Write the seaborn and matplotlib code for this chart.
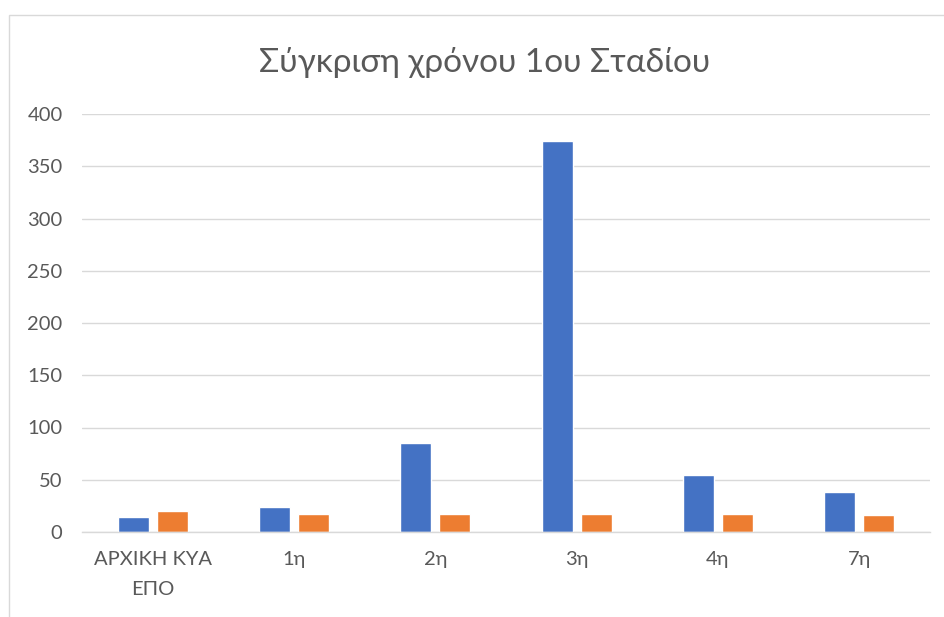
import matplotlib
matplotlib.use("Agg")
import matplotlib.pyplot as plt
import seaborn as sns
import pandas as pd
from matplotlib.patches import Rectangle

categories = ["ΑΡΧΙΚΗ ΚΥΑ\nΕΠΟ", "1η", "2η", "3η", "4η", "7η"]
series1 = [14, 24, 85, 374, 55, 38]
series2 = [20, 17, 17, 17, 17, 16]
series_names = ["Σειρά 1", "Σειρά 2"]
yticks = [0, 50, 100, 150, 200, 250, 300, 350, 400]
title = "Σύγκριση χρόνου 1ου Σταδίου"

df = pd.DataFrame({
    "cat": categories * 2,
    "val": series1 + series2,
    "series": [series_names[0]] * len(categories) + [series_names[1]] * len(categories),
})

sns.set_theme(style="white")
plt.rcParams['font.family'] = ['Lato', 'DejaVu Sans']
text_color = "#595959"

fig = plt.figure(figsize=(9.44, 6.17), dpi=100)
fig.patches.append(Rectangle((9/944, -0.05), 1.0, 1 - 15/617 + 0.05, transform=fig.transFigure,
                             fill=False, edgecolor="#D9D9D9", linewidth=1.0))
ax = fig.add_axes([82/944, 1 - 532/617, (930 - 82)/944, (532 - 114)/617])

sns.barplot(data=df, x="cat", y="val", hue="series", order=categories,
            palette=["#4472C4", "#ED7D31"], width=0.55, gap=0.2, ax=ax,
            legend=False, errorbar=None, saturation=1)

ax.set_ylim(0, 400)
ax.set_yticks(yticks)
ax.set_yticklabels([str(t) for t in yticks])
ax.set_xlim(-0.5, len(categories) - 0.5)
ax.yaxis.grid(True, color="#D9D9D9", linewidth=1.0)
ax.set_axisbelow(True)
for s in ["top", "right", "left"]:
    ax.spines[s].set_visible(False)
ax.spines["bottom"].set_color("#D9D9D9")
ax.spines["bottom"].set_linewidth(1.0)
ax.set_xlabel("")
ax.set_ylabel("")
ax.tick_params(axis="both", length=0, labelsize=14.5, colors=text_color)
ax.tick_params(axis="y", pad=14)
ax.tick_params(axis="x", pad=14)
for lbl in ax.get_xticklabels():
    lbl.set_linespacing(1.9)
    lbl.set_verticalalignment("top")

fig.text(485/944, 1 - 62/617, title, ha="center", va="center", fontsize=24, color=text_color)

fig.savefig("out.png", dpi=100)
